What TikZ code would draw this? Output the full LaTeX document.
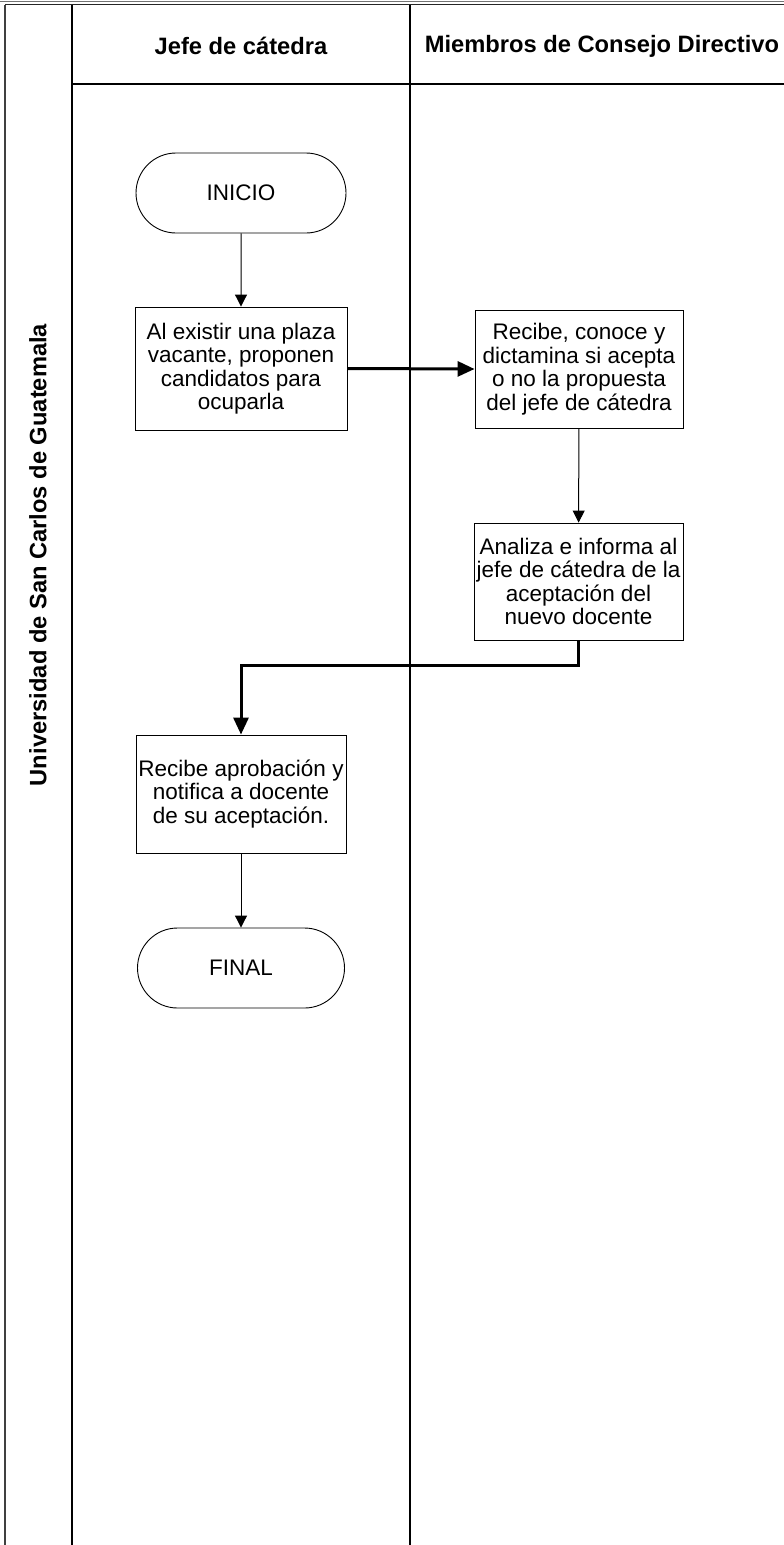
\documentclass[tikz,border=0pt]{standalone}
\usepackage{fontspec}
\setmainfont{Liberation Sans}
\usetikzlibrary{arrows.meta,shapes.misc}

\tikzset{
  lane/.style={line width=1.3pt, draw=black},
  procbox/.style={draw=black, line width=0.9pt, rectangle, align=center,
    inner sep=0pt, font=\fontsize{22.5}{23.5}\selectfont},
  termbox/.style={draw=black, line width=0.9pt, rounded rectangle,
    minimum width=210pt, minimum height=80pt, inner sep=0pt,
    font=\fontsize{22.5}{23.5}\selectfont},
  headtxt/.style={font=\bfseries\fontsize{23.7}{26}\selectfont, inner sep=0pt},
  thinflow/.style={line width=1pt, -{Triangle[length=12pt,width=12pt]}},
  thickflow/.style={line width=3pt, -{Triangle[length=17pt,width=15pt]}}
}

\begin{document}
\begin{tikzpicture}[x=1pt, y=-1pt]
  \useasboundingbox (0,0) rectangle (784,1545);
  \fill[white] (0,0) rectangle (784,1545);

  % pool frame
  \draw[line width=1pt, draw=black!55] (0,1.8) -- (784,1.8);
  \draw[line width=1.3pt, draw=black!85] (5,4.5) -- (784,4.5);
  \draw[line width=2pt, draw=black!75] (5,4.5) -- (5,1545);
  \draw[lane] (72,4.5) -- (72,1545);
  \draw[lane] (410,4.5) -- (410,1545);
  \draw[lane] (72,84) -- (784,84);

  % lane headers
  \node[headtxt] (hjefe) at (241,46) {Jefe de cátedra};
  \node[headtxt] (hcons) at (602,46) {Miembros de Consejo Directivo};
  \node[headtxt, rotate=90] (pool) at (38,555) {Universidad de San Carlos de Guatemala};

  % process steps
  \node[termbox] (inicio) at (241,193) {INICIO};
  \node[procbox, minimum width=212pt, minimum height=123pt] (propone) at (241,368.5)
    {Al existir una plaza\\vacante, proponen\\candidatos para\\ocuparla};
  \node[procbox, minimum width=208pt, minimum height=118pt] (recibe) at (579,369)
    {Recibe, conoce y\\dictamina si acepta\\o no la propuesta\\del jefe de cátedra};
  \node[procbox, minimum width=209pt, minimum height=117pt] (analiza) at (578.5,581.5)
    {Analiza e informa al\\jefe de cátedra de la\\aceptación del\\nuevo docente};
  \node[procbox, minimum width=210pt, minimum height=118pt] (aprueba) at (241,794)
    {Recibe aprobación y\\notifica a docente\\de su aceptación.};
  \node[termbox, minimum width=207pt] (final) at (241,968) {FINAL};

  % connectors
  \draw[thinflow] (inicio) -- (propone);
  \draw[thickflow] (propone.east) -- (recibe.west);
  \draw[thinflow] (recibe) -- (analiza);
  \coordinate (turn) at ([yshift=-25pt]analiza.south);
  \draw[thickflow] (analiza.south) -- (turn) -| (aprueba.north);
  \draw[thinflow] (aprueba) -- (final);
\end{tikzpicture}
\end{document}
